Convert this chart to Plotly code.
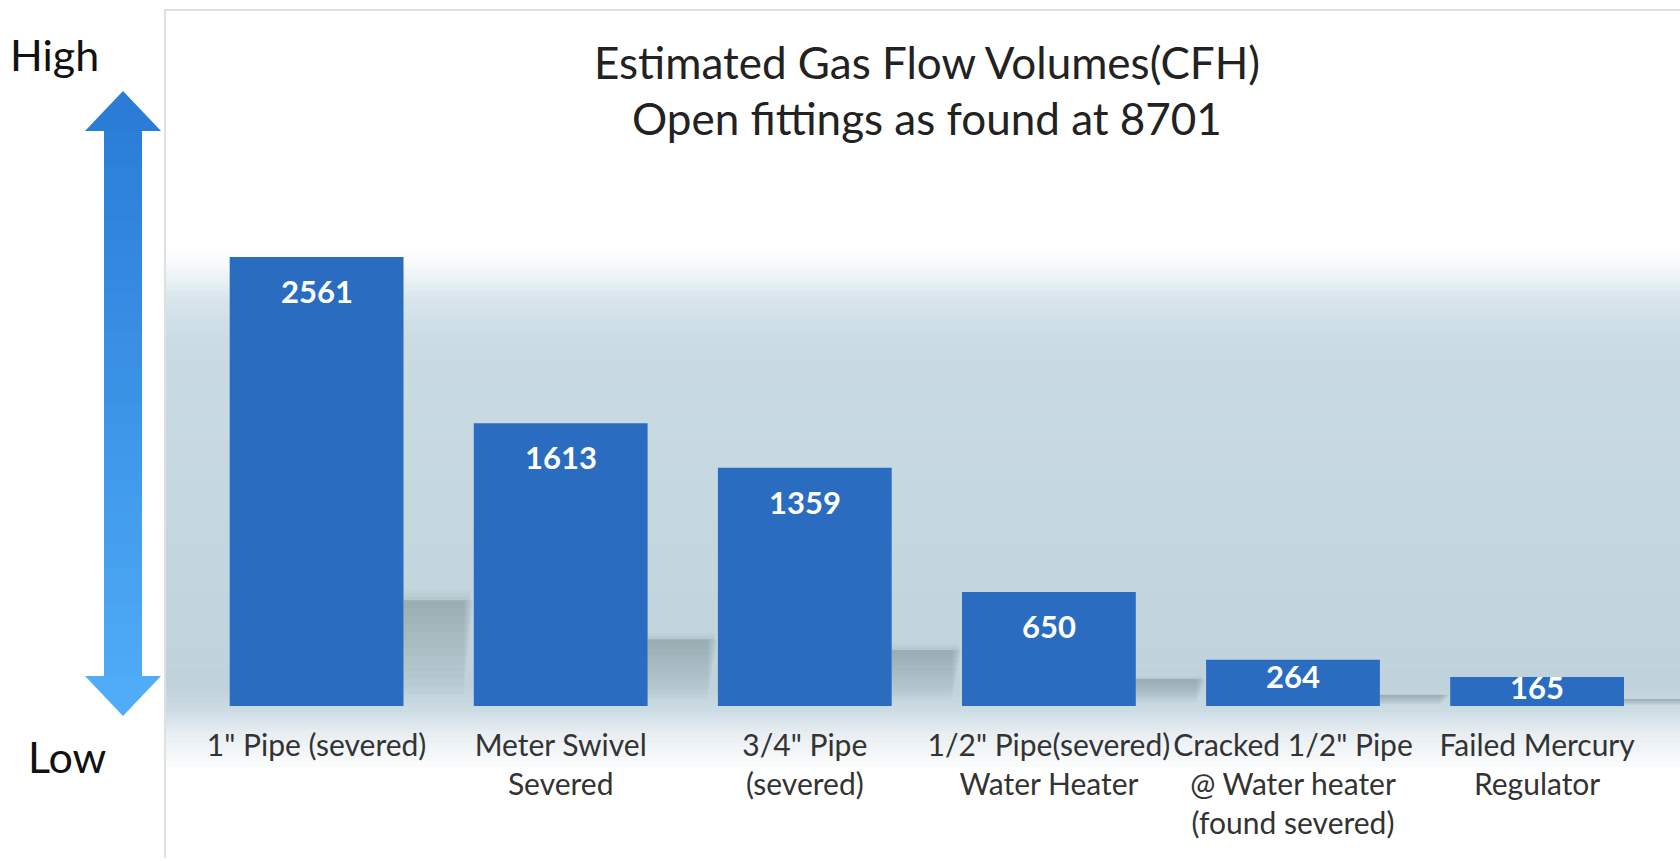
import plotly.graph_objects as go

# ---- data ----
categories = ['1" Pipe (severed)', 'Meter Swivel<br>Severed', '3/4" Pipe<br>(severed)',
              '1/2" Pipe(severed)<br>Water Heater', 'Cracked 1/2" Pipe<br>@ Water heater<br>(found severed)',
              'Failed Mercury<br>Regulator']
values = [2561, 1613, 1359, 650, 264, 165]
title_lines = ["Estimated Gas Flow Volumes(CFH)", "Open fittings as found at 8701"]
scale_labels = ["High", "Low"]

W, H = 1680, 861
L, R, T, B = 165, 0, 11, 155          # plot area pixels: x 165..1680, y 11..706
PW, PH = W - L - R, H - T - B
PPU = 0.1753                           # pixels per CFH unit
YMAX = PH / PPU
C0, STEP = 316.6, 244.1                # first category centre, category pitch (px)
FONT = "Lato"

def px(x):  # pixel -> paper x
    return (x - L) / PW

def py(y):  # pixel -> paper y
    return (H - B - y) / PH

def mix(c1, c2, t):
    return "rgb(%d,%d,%d)" % tuple(round(a + (b - a) * t) for a, b in zip(c1, c2))

shapes = []
# background gradient strips (page coordinates)
stops = [(242, (255, 255, 255)), (262, (249, 251, 252)), (300, (216, 229, 236)),
         (340, (202, 219, 227)), (500, (197, 215, 223)), (690, (192, 210, 219)),
         (712, (206, 221, 229)), (732, (230, 237, 241)), (772, (255, 255, 255))]
for (y0, c0), (y1, c1) in zip(stops[:-1], stops[1:]):
    n = 8
    for k in range(n):
        ya = y0 + (y1 - y0) * k / n
        yb = y0 + (y1 - y0) * (k + 1) / n + 0.6
        shapes.append(dict(type="rect", xref="paper", yref="paper", layer="below",
                           x0=px(L + 1), x1=px(W), y0=py(yb), y1=py(ya),
                           fillcolor=mix(c0, c1, (k + 0.5) / n), line=dict(width=0)))
# frame
shapes.append(dict(type="path", xref="paper", yref="paper", layer="below",
                   path="M %f %f L %f %f L %f %f" % (px(L), py(858), px(L), py(10), px(W), py(10)),
                   line=dict(color="#d6d6d6", width=1.5)))

# soft bar shadows in the gap to the right of each bar
BW = 0.712
GAP = 1 - BW
for i, v in enumerate(values):
    r = i + BW / 2
    top = 0.235 * v
    n = 12
    for k in range(1, n + 1):
        shapes.append(dict(type="rect", xref="x", yref="y", layer="below",
                           x0=r, x1=r + GAP * (1.0 - 0.012 * k),
                           y0=max(top - 0.0175 * v * k, 0.02 * v), y1=top,
                           fillcolor="rgba(110,122,134,0.038)", line=dict(width=0)))
    for k in range(1, 4):
        shapes.append(dict(type="rect", xref="x", yref="y", layer="below",
                           x0=r, x1=r + GAP * 0.95,
                           y0=top, y1=top + 0.008 * v * k,
                           fillcolor="rgba(110,122,134,0.04)", line=dict(width=0)))

# double arrow on the left
cx, hw, sw = 123, 38, 19
top_tip, top_base, bot_base, bot_tip = 91, 130, 677, 716
ns = 30
for k in range(ns):
    ya = top_base + (bot_base - top_base) * k / ns
    yb = top_base + (bot_base - top_base) * (k + 1) / ns + 0.8
    shapes.append(dict(type="rect", xref="paper", yref="paper",
                       x0=px(cx - sw), x1=px(cx + sw), y0=py(yb), y1=py(ya),
                       fillcolor=mix((42, 126, 216), (78, 170, 246), (k + 0.5) / ns), line=dict(width=0)))
shapes.append(dict(type="path", xref="paper", yref="paper", fillcolor="rgb(42,124,214)",
                   path="M %f %f L %f %f L %f %f Z" % (px(cx), py(top_tip), px(cx - hw), py(top_base + 1), px(cx + hw), py(top_base + 1)),
                   line=dict(width=0)))
shapes.append(dict(type="path", xref="paper", yref="paper", fillcolor="rgb(80,172,248)",
                   path="M %f %f L %f %f L %f %f Z" % (px(cx), py(bot_tip), px(cx - hw), py(bot_base - 1), px(cx + hw), py(bot_base - 1)),
                   line=dict(width=0)))

fig = go.Figure()
fig.add_trace(go.Bar(x=list(range(len(values))), y=values,
                     marker=dict(color="#2a6cc0", line=dict(width=0)),
                     width=BW, hoverinfo="x+y"))

annotations = []
for i, v in enumerate(values):
    h = v * PPU
    off = min(34, 0.36 * h)
    annotations.append(dict(x=i, y=v, xref="x", yref="y", text=str(v), showarrow=False,
                            yanchor="middle", yshift=-off,
                            font=dict(family=FONT, size=31, color="white", weight="bold")))
for txt, yy in zip(title_lines, (62, 118)):
    annotations.append(dict(x=px(927), y=py(yy), xref="paper", yref="paper", text=txt,
                            showarrow=False, xanchor="center", yanchor="middle",
                            font=dict(family=FONT, size=44, color="#222222")))
annotations.append(dict(x=px(54), y=py(54), xref="paper", yref="paper", text=scale_labels[0],
                        showarrow=False, xanchor="center", yanchor="middle",
                        font=dict(family=FONT, size=43, color="#111111")))
annotations.append(dict(x=px(67), y=py(756), xref="paper", yref="paper", text=scale_labels[1],
                        showarrow=False, xanchor="center", yanchor="middle",
                        font=dict(family=FONT, size=43, color="#111111")))

fig.update_layout(
    width=W, height=H, margin=dict(l=L, r=R, t=T, b=B, pad=0, autoexpand=False),
    paper_bgcolor="white", plot_bgcolor="rgba(0,0,0,0)",
    showlegend=False, shapes=shapes, annotations=annotations,
    xaxis=dict(range=[(L - C0) / STEP, (W - C0) / STEP], tickmode="array",
               tickvals=list(range(len(categories))), ticktext=categories,
               showgrid=False, zeroline=False, showline=False, ticks="",
               tickangle=0, automargin=False,
               tickfont=dict(family=FONT, size=30, color="#333333"), ticklabelstandoff=19),
    yaxis=dict(range=[0, YMAX], visible=False, showgrid=False, automargin=False),
)
fig.write_html("out.html", config={"displayModeBar": False},
               post_script="document.body.style.margin='0';document.body.style.overflow='hidden';")
